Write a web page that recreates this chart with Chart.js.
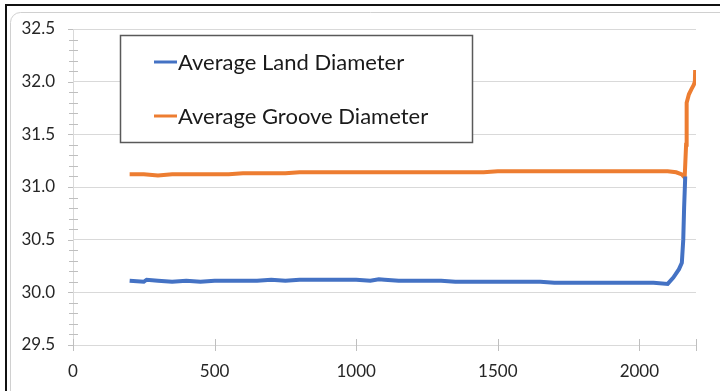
<!DOCTYPE html>
<html>
<head>
<meta charset="utf-8">
<script src="https://cdn.jsdelivr.net/npm/chart.js@4/dist/chart.umd.min.js"></script>
<style>
  html, body { margin: 0; padding: 0; background: #fff; }
  #wrap { width: 720px; height: 391px; position: relative; }
</style>
</head>
<body>
<div id="wrap"><canvas id="myChart" width="720" height="391"></canvas></div>
<script>
'use strict';

// chart values

let seriesNames = ['Average Land Diameter', 'Average Groove Diameter'];
let seriesColors = ['#4472C4', '#ED7D31'];

let landX = [200, 250, 260, 300, 350, 400, 450, 500, 550, 600, 650, 700, 750, 800, 850, 900, 950, 1000,
  1050, 1080, 1100, 1150, 1200, 1250, 1300, 1350, 1400, 1450, 1500, 1550, 1600, 1650, 1700, 1750, 1800,
  1850, 1900, 1950, 2000, 2050, 2100, 2120, 2140, 2150, 2155, 2158, 2162];
let landY = [30.11, 30.10, 30.12, 30.11, 30.10, 30.11, 30.10, 30.11, 30.11, 30.11, 30.11, 30.12, 30.11, 30.12, 30.12, 30.12, 30.12, 30.12,
  30.11, 30.125, 30.12, 30.11, 30.11, 30.11, 30.11, 30.10, 30.10, 30.10, 30.10, 30.10, 30.10, 30.10, 30.09, 30.09, 30.09,
  30.09, 30.09, 30.09, 30.09, 30.09, 30.08, 30.14, 30.22, 30.28, 30.50, 30.80, 31.10];

let grooveX = [200, 250, 300, 350, 400, 450, 500, 550, 600, 650, 700, 750, 800, 850, 900, 950, 1000,
  1050, 1100, 1150, 1200, 1250, 1300, 1350, 1400, 1450, 1500, 1550, 1600, 1650, 1700, 1750, 1800,
  1850, 1900, 1950, 2000, 2050, 2100, 2130, 2150, 2160, 2165, 2167, 2175, 2184, 2192, 2196, 2197];
let grooveY = [31.12, 31.12, 31.11, 31.12, 31.12, 31.12, 31.12, 31.12, 31.13, 31.13, 31.13, 31.13, 31.14, 31.14, 31.14, 31.14, 31.14,
  31.14, 31.14, 31.14, 31.14, 31.14, 31.14, 31.14, 31.14, 31.14, 31.15, 31.15, 31.15, 31.15, 31.15, 31.15, 31.15,
  31.15, 31.15, 31.15, 31.15, 31.15, 31.15, 31.14, 31.12, 31.09, 31.40, 31.80, 31.88, 31.93, 31.97, 32.00, 32.11];

let xTicks = [0, 500, 1000, 1500, 2000];
let yTicks = [29.5, 30.0, 30.5, 31.0, 31.5, 32.0, 32.5];

// helpers

function toPoints(xs, ys) {
  let points = [];
  for (let i = 0; i < xs.length; i++) {
    points.push({ x: xs[i], y: ys[i] });
  }
  return points;
}

let fontFamily = 'Lato, "Open Sans", sans-serif';

// frame behind the chart: white page, grey rounded border, dark edge top and left
let framePlugin = {
  id: 'frame',
  beforeDraw(chart) {
    let ctx = chart.ctx;
    ctx.save();
    ctx.fillStyle = '#ffffff';
    ctx.fillRect(0, 0, chart.width, chart.height);
    ctx.strokeStyle = '#d0d0d0';
    ctx.lineWidth = 1;
    ctx.beginPath();
    ctx.roundRect(10.5, 12.5, 720, 390, 10);
    ctx.stroke();
    ctx.strokeStyle = '#111111';
    ctx.lineWidth = 2;
    ctx.beginPath();
    ctx.moveTo(5, 5);
    ctx.lineTo(chart.width, 5);
    ctx.moveTo(6, 5);
    ctx.lineTo(6, chart.height);
    ctx.stroke();
    ctx.restore();
  }
};

// tick marks crossing the axes, and the boxed legend
let axisTicksPlugin = {
  id: 'axisTicks',
  afterDraw(chart) {
    let ctx = chart.ctx;
    let xs = chart.scales.x;
    let ys = chart.scales.y;
    let area = chart.chartArea;
    ctx.save();
    ctx.strokeStyle = '#bfbfbf';
    ctx.lineWidth = 1;
    ctx.beginPath();
    // y minor ticks every 0.1
    for (let i = 0; i <= 30; i++) {
      let v = 29.5 + i * 0.1;
      let py = Math.round(ys.getPixelForValue(v)) + 0.5;
      if (i % 5 === 0) {
        ctx.moveTo(area.left - 5, py);
        ctx.lineTo(area.left, py);
      } else {
        ctx.moveTo(area.left - 4, py);
        ctx.lineTo(area.left + 5, py);
      }
    }
    // x ticks
    let xMarks = xTicks.concat([2200]);
    for (let i = 0; i < xMarks.length; i++) {
      let px = Math.round(xs.getPixelForValue(xMarks[i])) + 0.5;
      ctx.moveTo(px, area.bottom - 6);
      ctx.lineTo(px, area.bottom + 6);
    }
    ctx.stroke();

    // legend box
    let box = { left: 120.5, top: 35.5, width: 352, height: 107 };
    ctx.fillStyle = '#ffffff';
    ctx.fillRect(box.left, box.top, box.width, box.height);
    ctx.strokeStyle = '#595959';
    ctx.lineWidth = 1.5;
    ctx.strokeRect(box.left, box.top, box.width, box.height);
    let rows = [62, 116];
    ctx.font = '22px ' + fontFamily;
    ctx.textBaseline = 'middle';
    ctx.textAlign = 'left';
    chart.data.datasets.forEach(function (ds, i) {
      ctx.strokeStyle = ds.borderColor;
      ctx.lineWidth = 3;
      ctx.beginPath();
      ctx.moveTo(154, rows[i]);
      ctx.lineTo(177, rows[i]);
      ctx.stroke();
      ctx.fillStyle = '#1a1a1a';
      ctx.fillText(ds.label, 178, rows[i] + 1);
    });
    ctx.restore();
  }
};

const data = {
  datasets: [
    {
      label: seriesNames[0],
      data: toPoints(landX, landY),
      borderColor: seriesColors[0],
      backgroundColor: seriesColors[0],
      borderWidth: 4,
      showLine: true,
      pointRadius: 0,
      tension: 0
    },
    {
      label: seriesNames[1],
      data: toPoints(grooveX, grooveY),
      borderColor: seriesColors[1],
      backgroundColor: seriesColors[1],
      borderWidth: 4,
      showLine: true,
      pointRadius: 0,
      tension: 0
    }
  ]
};

const config = {
  type: 'scatter',
  data: data,
  options: {
    responsive: false,
    animation: false,
    layout: { padding: { top: 29, right: 24, left: 0, bottom: 0 } },
    plugins: {
      legend: { display: false },
      tooltip: { enabled: false }
    },
    scales: {
      x: {
        type: 'linear',
        min: 0,
        max: 2200,
        afterBuildTicks(scale) {
          scale.ticks = xTicks.concat([2200]).map(function (v) { return { value: v }; });
        },
        afterFit(scale) { scale.height = 46; },
        ticks: {
          autoSkip: false,
          maxRotation: 0,
          padding: 16,
          color: '#262626',
          font: { family: fontFamily, size: 17 },
          callback: function (value) { return xTicks.includes(value) ? String(value) : ''; }
        },
        grid: { drawOnChartArea: false, drawTicks: false },
        border: { color: '#d9d9d9', width: 1 }
      },
      y: {
        min: 29.5,
        max: 32.5,
        afterBuildTicks(scale) {
          scale.ticks = yTicks.map(function (v) { return { value: v }; });
        },
        afterFit(scale) { scale.width = 73; },
        ticks: {
          autoSkip: false,
          padding: 18,
          color: '#262626',
          font: { family: fontFamily, size: 17 },
          callback: function (value) { return Number(value).toFixed(1); }
        },
        grid: { color: '#d9d9d9', drawTicks: false },
        border: { color: '#d9d9d9', width: 1 }
      }
    }
  },
  plugins: [framePlugin, axisTicksPlugin]
};

let canvasChart = document.getElementById('myChart');
const myChart = new Chart(canvasChart, config);
</script>
</body>
</html>
